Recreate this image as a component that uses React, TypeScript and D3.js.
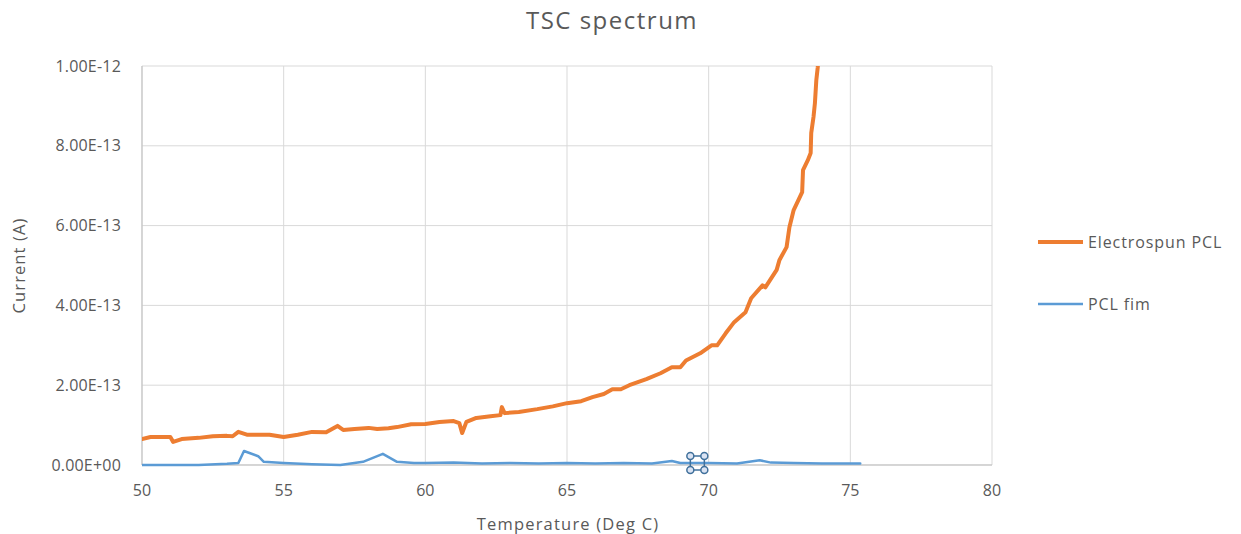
import React from 'react';
import * as d3 from 'd3';

// Electrospun PCL: temperature (Deg C) and current (A)
const electrospunT = [
  50.0, 50.3, 51.0, 51.1, 51.4, 52.0, 52.5, 53.0, 53.2, 53.4, 53.7, 54.5, 55.0, 55.5, 56.0, 56.5,
  56.9, 57.1, 57.5, 58.0, 58.3, 58.7, 59.0, 59.5, 60.0, 60.5, 61.0, 61.2, 61.3, 61.45, 61.8, 62.3,
  62.65, 62.7, 62.8, 63.3, 63.95, 64.5, 65.0, 65.5, 65.9, 66.3, 66.6, 66.9, 67.2, 67.8, 68.3, 68.7,
  69.0, 69.2, 69.7, 70.1, 70.3, 70.6, 70.9, 71.3, 71.5, 71.9, 72.0, 72.4, 72.5, 72.75, 72.85, 73.0,
  73.3, 73.33, 73.5, 73.6, 73.62, 73.7, 73.75, 73.8, 73.85, 73.9,
];
const electrospunI = [
  0.65e-13, 0.70e-13, 0.70e-13, 0.58e-13, 0.65e-13, 0.68e-13, 0.72e-13, 0.73e-13, 0.72e-13, 0.83e-13,
  0.76e-13, 0.76e-13, 0.70e-13, 0.76e-13, 0.83e-13, 0.82e-13, 0.98e-13, 0.88e-13, 0.90e-13, 0.93e-13,
  0.90e-13, 0.92e-13, 0.95e-13, 1.02e-13, 1.03e-13, 1.08e-13, 1.10e-13, 1.05e-13, 0.80e-13, 1.08e-13,
  1.18e-13, 1.22e-13, 1.25e-13, 1.45e-13, 1.30e-13, 1.33e-13, 1.40e-13, 1.47e-13, 1.55e-13, 1.60e-13,
  1.70e-13, 1.78e-13, 1.90e-13, 1.90e-13, 2.00e-13, 2.15e-13, 2.30e-13, 2.45e-13, 2.45e-13, 2.62e-13,
  2.80e-13, 3.00e-13, 3.00e-13, 3.30e-13, 3.58e-13, 3.83e-13, 4.18e-13, 4.50e-13, 4.45e-13, 4.89e-13,
  5.14e-13, 5.46e-13, 5.96e-13, 6.39e-13, 6.84e-13, 7.39e-13, 7.64e-13, 7.82e-13, 8.32e-13, 8.72e-13,
  9.07e-13, 9.65e-13, 9.97e-13, 10.5e-13,
];

// PCL film
const filmT = [
  50.0, 51.0, 52.0, 53.0, 53.4, 53.6, 54.1, 54.3, 55.0, 56.0, 57.0, 57.8, 58.5, 59.0, 59.6, 60.0,
  61.0, 62.0, 63.0, 64.0, 65.0, 66.0, 67.0, 68.0, 68.7, 69.0, 70.0, 71.0, 71.8, 72.2, 73.0, 74.0,
  75.0, 75.35,
];
const filmI = [
  0, 0, 0, 0.03e-13, 0.05e-13, 0.35e-13, 0.22e-13, 0.08e-13, 0.05e-13, 0.02e-13, 0, 0.08e-13,
  0.28e-13, 0.08e-13, 0.05e-13, 0.05e-13, 0.06e-13, 0.04e-13, 0.05e-13, 0.04e-13, 0.05e-13,
  0.04e-13, 0.05e-13, 0.04e-13, 0.10e-13, 0.05e-13, 0.05e-13, 0.04e-13, 0.12e-13, 0.06e-13,
  0.05e-13, 0.04e-13, 0.04e-13, 0.04e-13,
];

const xTicks = [50, 55, 60, 65, 70, 75, 80];
const yTicks = [0, 2e-13, 4e-13, 6e-13, 8e-13, 1e-12];
const yTickLabels = ['0.00E+00', '2.00E-13', '4.00E-13', '6.00E-13', '8.00E-13', '1.00E-12'];
const seriesNames = ['Electrospun PCL', 'PCL fim'];

// excel selection handle left on the blue line
const handleAt = [69.6, 0.05e-13];

const W = 1241;
const H = 534;
const left = 142, right = 992, top = 66, bottom = 465;
const font = '"Open Sans", "Liberation Sans", sans-serif';
const textColor = '#595959';

export default function App() {
  const x = d3.scaleLinear().domain([50, 80]).range([left, right]);
  const y = d3.scaleLinear().domain([0, 1e-12]).range([bottom, top]);

  const line = d3.line<[number, number]>()
    .x(d => x(d[0]))
    .y(d => y(d[1]));

  const orange = electrospunT.map((t, i) => [t, electrospunI[i]] as [number, number]);
  const blue = filmT.map((t, i) => [t, filmI[i]] as [number, number]);

  const hx = x(handleAt[0]);
  const hy = y(handleAt[1]);
  const hs = 7;
  const corners = [[-hs, -hs], [hs, -hs], [hs, hs], [-hs, hs]];

  return (
    <svg width={W} height={H} style={{ position: 'absolute', left: 0, top: 0 }}
      fontFamily={font}>
      <rect width={W} height={H} fill="#fff" />
      <defs>
        <clipPath id="plot">
          <rect x={left} y={top} width={right - left} height={bottom - top + 4} />
        </clipPath>
      </defs>

      <text x={612} y={29} textAnchor="middle" fontSize={24} letterSpacing={1.5}
        fill={textColor}>TSC spectrum</text>

      {/* grid */}
      {yTicks.map(v => (
        <line key={'gy' + v} x1={left} x2={right} y1={y(v)} y2={y(v)} stroke="#d9d9d9" />
      ))}
      {xTicks.map(v => (
        <line key={'gx' + v} x1={x(v)} x2={x(v)} y1={top} y2={bottom} stroke="#d9d9d9" />
      ))}
      <line x1={left} x2={left} y1={top} y2={bottom} stroke="#bfbfbf" />
      <line x1={left} x2={right} y1={bottom} y2={bottom} stroke="#bfbfbf" />

      {/* tick labels */}
      {yTicks.map((v, i) => (
        <text key={'ty' + v} x={121} y={y(v)} dy="0.35em" textAnchor="end" fontSize={16}
          letterSpacing={0.2} fill={textColor}>{yTickLabels[i]}</text>
      ))}
      {xTicks.map(v => (
        <text key={'tx' + v} x={x(v)} y={490} dy="0.35em" textAnchor="middle" fontSize={16}
          fill={textColor}>{v}</text>
      ))}

      <text transform={`translate(25,${(top + bottom) / 2}) rotate(-90)`} textAnchor="middle"
        fontSize={16.5} letterSpacing={1.1} fill={textColor}>Current (A)</text>
      <text x={568} y={530} textAnchor="middle" fontSize={16.5} letterSpacing={1.2}
        fill={textColor}>Temperature (Deg C)</text>

      <g clipPath="url(#plot)" fill="none" strokeLinejoin="round" strokeLinecap="round">
        <path d={line(blue) || ''} stroke="#5b9bd5" strokeWidth={2.5} />
        <path d={line(orange) || ''} stroke="#ed7d31" strokeWidth={4} />
      </g>

      {/* selection handle */}
      <g stroke="#41719c" strokeWidth={1.5}>
        <rect x={hx - hs} y={hy - hs} width={hs * 2} height={hs * 2} fill="none" />
        {corners.map(([dx, dy], i) => (
          <circle key={i} cx={hx + dx} cy={hy + dy} r={3.5} fill="#dae3f3" />
        ))}
      </g>

      {/* legend */}
      <line x1={1038} x2={1083} y1={242} y2={242} stroke="#ed7d31" strokeWidth={4} />
      <text x={1088} y={242} dy="0.35em" fontSize={16} letterSpacing={0.9}
        fill={textColor}>{seriesNames[0]}</text>
      <line x1={1038} x2={1083} y1={304} y2={304} stroke="#5b9bd5" strokeWidth={2.5} />
      <text x={1088} y={304} dy="0.35em" fontSize={16} letterSpacing={0.9}
        fill={textColor}>{seriesNames[1]}</text>
    </svg>
  );
}
